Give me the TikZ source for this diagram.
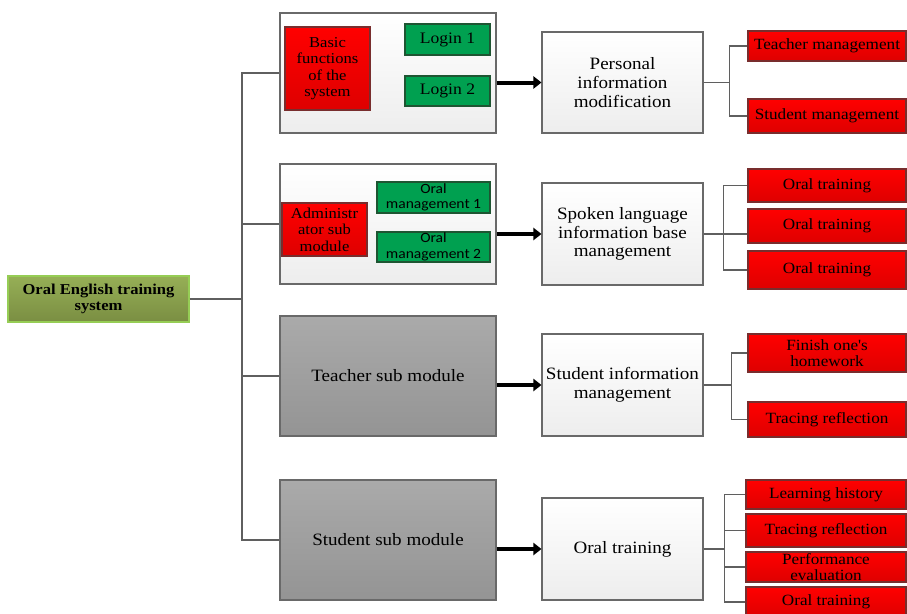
\documentclass[tikz,border=0pt]{standalone}
\usepackage{fontspec}
\setmainfont{Liberation Serif}[FakeStretch=1.1]
\newfontfamily\oralsans{Carlito}[FakeStretch=1.1]
\usetikzlibrary{arrows.meta}
\definecolor{roottop}{RGB}{150,175,86}
\definecolor{rootbot}{RGB}{122,142,66}
\definecolor{rootline}{RGB}{150,205,85}
\definecolor{greenfill}{RGB}{0,160,80}
\definecolor{greenline}{RGB}{30,85,50}
\definecolor{redbot}{RGB}{222,0,0}
\definecolor{redline}{RGB}{120,45,45}
\definecolor{greytop}{RGB}{170,170,170}
\definecolor{greybot}{RGB}{148,148,148}
\definecolor{boxline}{RGB}{105,105,105}
\definecolor{linkgrey}{RGB}{95,95,95}

\begin{document}
\begin{tikzpicture}[x=0.75pt,y=-0.75pt,
    pxsize/.style 2 args={minimum width=#1*0.75pt,minimum height=#2*0.75pt},
    box/.style={draw=boxline,line width=0.8pt,inner sep=0pt,align=center,
      font=\fontsize{13}{14}\selectfont},
    modbox/.style={box,top color=white,bottom color=black!7},
    greybox/.style={box,top color=greytop,bottom color=greybot},
    redbox/.style={box,draw=redline,top color=red,bottom color=redbot,
      font=\fontsize{11.3}{12.4}\selectfont},
    leafbox/.style={redbox,font=\fontsize{11.7}{11.8}\selectfont},
    greenbox/.style={box,draw=greenline,fill=greenfill,
      font=\fontsize{12}{13}\selectfont},
    rootbox/.style={box,draw=rootline,top color=roottop,bottom color=rootbot,
      font=\fontsize{11.3}{12}\selectfont\bfseries},
    link/.style={draw=linkgrey,line width=0.8pt},
    bigarrow/.style={line width=3pt,-{Triangle[length=6pt,width=9pt]}}]
  \useasboundingbox (0,0) rectangle (907,614);

  % root
  \node[rootbox,pxsize={181}{46}] (root) at (98.5,299) {Oral English training\\system};

  % modules
  \node[modbox,pxsize={216}{120}] (modA) at (388,73) {};
  \node[redbox,pxsize={85}{83}] (basic) at (327.5,68.5) {Basic\\functions\\of the\\system};
  \node[greenbox,pxsize={85}{31}] (login1) at (447.5,39.5) {Login 1};
  \node[greenbox,pxsize={85}{30}] (login2) at (447.5,91) {Login 2};

  \node[modbox,pxsize={216}{120}] (modB) at (388,224) {};
  \node[redbox,pxsize={85}{53}] (admin) at (324.5,229.5) {Administr\\ator sub\\module};
  \node[greenbox,font=\oralsans\fontsize{10.6}{11.6}\selectfont,pxsize={113}{31}] (oral1) at (433.5,197.5) {Oral\\management 1};
  \node[greenbox,font=\oralsans\fontsize{10.6}{11.6}\selectfont,pxsize={113}{30}] (oral2) at (433.5,247) {Oral\\management 2};

  \node[greybox,pxsize={216}{120}] (modC) at (388,376) {Teacher sub module};
  \node[greybox,pxsize={216}{120}] (modD) at (388,540) {Student sub module};

  % middle column
  \node[modbox,pxsize={161}{101}] (midA) at (622.5,82.5) {Personal\\information\\modification};
  \node[modbox,pxsize={161}{102}] (midB) at (622.5,234) {Spoken language\\information base\\management};
  \node[modbox,pxsize={161}{102}] (midC) at (622.5,385) {Student information\\management};
  \node[modbox,pxsize={161}{102}] (midD) at (622.5,549) {Oral training};

  % leaves
  \node[leafbox,pxsize={158}{30}] (leafA1) at (827,46) {Teacher management};
  \node[leafbox,pxsize={158}{34}] (leafA2) at (827,116) {Student management};
  \node[leafbox,pxsize={158}{33}] (leafB1) at (827,185.5) {Oral training};
  \node[leafbox,pxsize={158}{34}] (leafB2) at (827,226) {Oral training};
  \node[leafbox,pxsize={158}{38}] (leafB3) at (827,270) {Oral training};
  \node[leafbox,pxsize={158}{38}] (leafC1) at (827,353) {Finish one\textquotesingle s\\homework};
  \node[leafbox,pxsize={158}{35}] (leafC2) at (827,419.5) {Tracing reflection};
  \node[leafbox,pxsize={160}{29}] (leafD1) at (826,494.5) {Learning history};
  \node[leafbox,pxsize={160}{33}] (leafD2) at (826,530.5) {Tracing reflection};
  \node[leafbox,pxsize={160}{30}] (leafD3) at (826,567) {Performance\\evaluation};
  \node[leafbox,pxsize={160}{30}] (leafD4) at (826,602) {Oral training};

  % tree lines
  \coordinate (spine) at (242,299);
  \draw[link] (root.east) -- (spine);
  \foreach \m in {modA,modB,modC,modD}
    \draw[link] (spine) |- (\m.west);

  \foreach \m/\n in {modA/midA,modB/midB,modC/midC,modD/midD}
    \draw[bigarrow] (\m.east |- \n.west) -- (\n.west);

  \draw[link] (midA.east) -- ++(26,0) coordinate (forkA);
  \draw[link] (forkA) |- (leafA1.west);
  \draw[link] (forkA) |- (leafA2.west);

  \draw[link] (midB.east) -- ++(20,0) coordinate (forkB);
  \draw[link] (forkB) |- (leafB1.west);
  \draw[link] (forkB) -- (leafB2.west |- forkB);
  \draw[link] (forkB) |- (leafB3.west);

  \draw[link] (midC.east) -- ++(28,0) coordinate (forkC);
  \draw[link] (forkC) |- (leafC1.west);
  \draw[link] (forkC) |- (leafC2.west);

  \draw[link] (midD.east) -- ++(21,0) coordinate (forkD);
  \foreach \l in {leafD1,leafD2,leafD3,leafD4}
    \draw[link] (forkD) |- (\l.west);
\end{tikzpicture}
\end{document}
